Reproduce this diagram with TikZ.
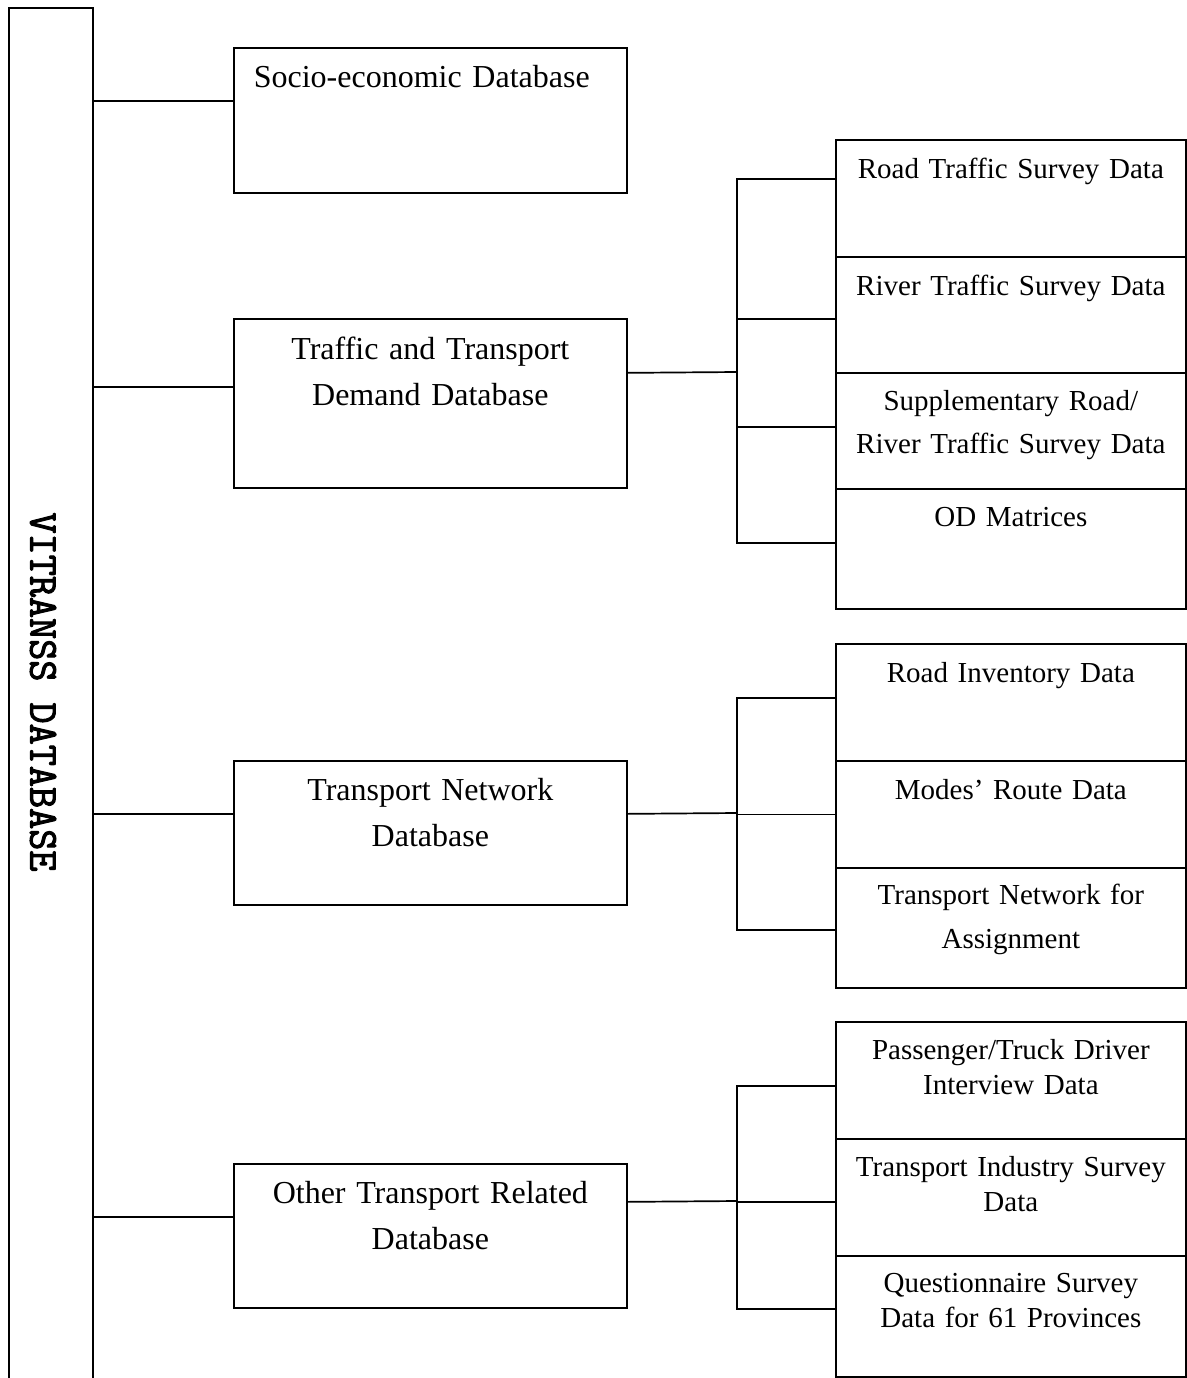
\documentclass[tikz,border=0pt]{standalone}
\usepackage{fontspec}
\setmainfont{Liberation Serif}
\newfontfamily\vtfont{Latin Modern Mono}[FakeBold=2.5]
\usepackage{tikz}

\begin{document}
\begin{tikzpicture}[x=1pt,y=1pt,line width=1.7pt,
	mainbox/.style={draw=black, text width=393pt, align=center, text height=40pt, font=\fontsize{32}{46}\selectfont},
	subbox/.style={draw=black, text width=350pt, align=center, text height=39pt, font=\fontsize{29}{43}\selectfont},
	tightbox/.style={subbox, font=\fontsize{29}{35}\selectfont}]
	\tikzstyle{every node}+=[inner sep=0pt]
	\useasboundingbox (0,0) rectangle (1186,-1378);
	\coordinate (bar) at (93,-8);
	\draw [black] (9,-1378) |- (bar) -- (93,-1378);
	\node [rotate=-90, font=\vtfont\fontsize{41}{41}\selectfont] (vt) at (43,-692) {VITRANSS DATABASE};
	\node [mainbox, anchor=north west, align=left, text width=353pt, inner xsep=20pt, text depth=105pt] (soc) at (233,-47) {Socio-economic Database};
	\node [mainbox, anchor=north west, text height=41pt, text depth=128pt] (trf) at (233,-318) {Traffic and Transport\\Demand Database};
	\node [mainbox, anchor=north west, text depth=104pt] (net) at (233,-760) {Transport Network\\Database};
	\node [mainbox, anchor=north west, text depth=104pt] (oth) at (233,-1163) {Other Transport Related\\Database};
	\node [subbox, anchor=north west, text depth=78pt] (rd) at (835,-139) {Road Traffic Survey Data};
	\node [subbox, anchor=north west, text depth=77pt] (rv) at (835,-256) {River Traffic Survey Data};
	\node [subbox, anchor=north west, text height=38pt, text depth=78pt] (sp) at (835,-372) {Supplementary Road/\\River Traffic Survey Data};
	\node [subbox, anchor=north west, text height=38pt, text depth=82pt] (od) at (835,-488) {OD Matrices};
	\node [subbox, anchor=north west, text depth=78pt] (ri) at (835,-643) {Road Inventory Data};
	\node [subbox, anchor=north west, text depth=68pt] (mr) at (835,-760) {Modes’ Route Data};
	\node [subbox, anchor=north west, text height=37pt, text depth=83pt, font=\fontsize{29}{44}\selectfont] (tn) at (835,-867) {Transport Network for\\Assignment};
	\node [tightbox, anchor=north west, text height=38pt, text depth=79pt] (pd) at (835,-1021) {Passenger/Truck Driver\\Interview Data};
	\node [tightbox, anchor=north west, text height=38pt, text depth=79pt] (ti) at (835,-1138) {Transport Industry Survey\\Data};
	\node [tightbox, anchor=north west, text height=37pt, text depth=84pt] (qs) at (835,-1255) {Questionnaire Survey\\Data for 61 Provinces};
	\draw [black] ([yshift=19.5]soc.west) -- ([yshift=19.5]soc.west -| bar);
	\draw [black] ([yshift=16.5]trf.west) -- ([yshift=16.5]trf.west -| bar);
	\draw [black] ([yshift=19]net.west) -- ([yshift=19]net.west -| bar);
	\draw [black] ([yshift=19]oth.west) -- ([yshift=19]oth.west -| bar);
	\coordinate (tbus) at (737,-372);
	\draw [black] ([yshift=30.5]trf.east) -- (tbus);
	\draw [black] ([yshift=19.5]rd.west) -| (tbus) |- ([yshift=6]od.west);
	\draw [black] ([yshift=-4]rv.west) -- ([yshift=-4]rv.west -| tbus);
	\draw [black] ([yshift=4]sp.west) -- ([yshift=4]sp.west -| tbus);
	\coordinate (nbus) at (737,-813);
	\draw [black] ([yshift=19]net.east) -- (nbus);
	\draw [black] ([yshift=4.5]ri.west) -| (nbus) |- ([yshift=-2]tn.west);
	\draw [black] (mr.west) -- (mr.west -| nbus);
	\coordinate (obus) at (737,-1201);
	\draw [black] ([yshift=34]oth.east) -- (obus);
	\draw [black] ([yshift=-5.5]pd.west) -| (obus) |- ([yshift=7.5]qs.west);
	\draw [black] ([yshift=-4.5]ti.west) -- ([yshift=-4.5]ti.west -| obus);
\end{tikzpicture}
\end{document}
